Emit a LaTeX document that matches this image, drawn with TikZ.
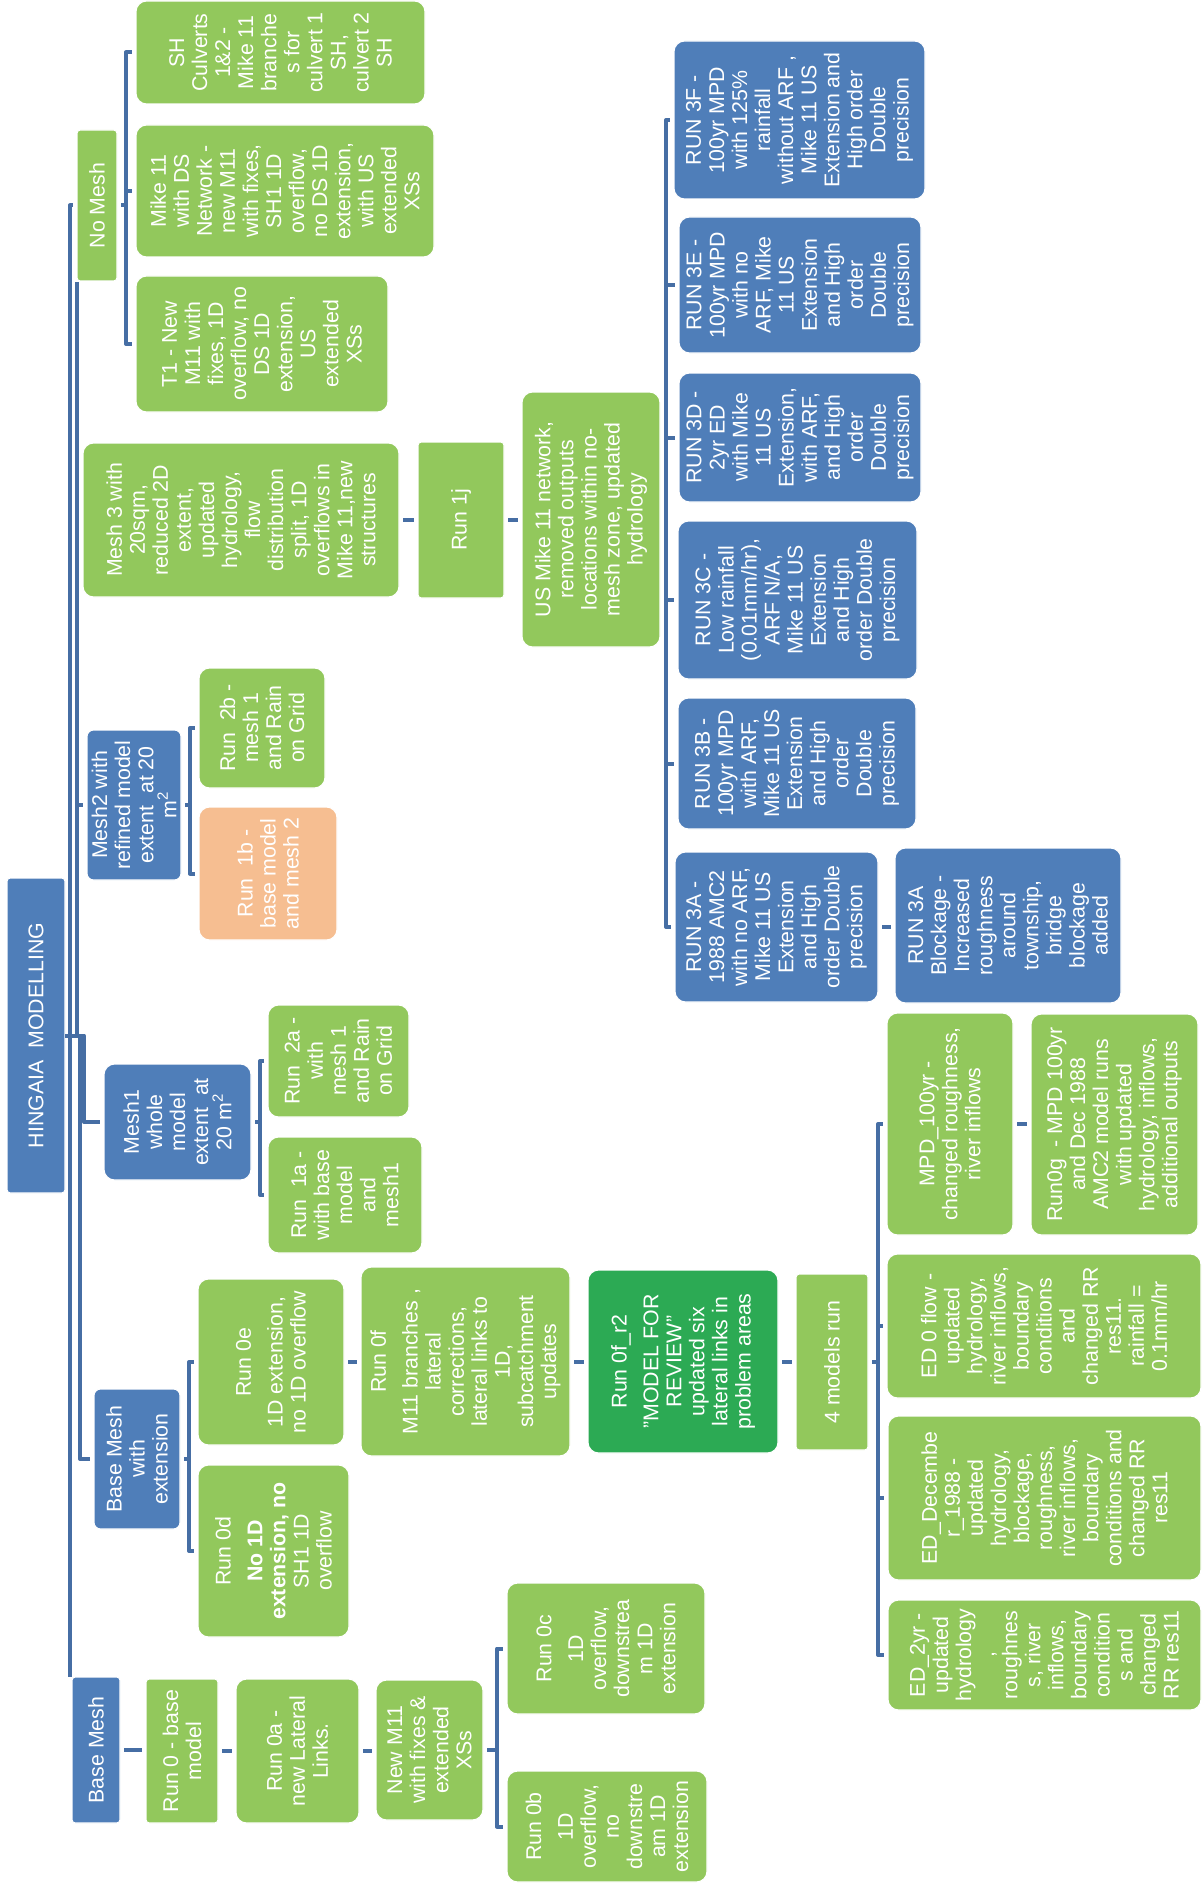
\documentclass[tikz,border=0pt]{standalone}
\usepackage{fontspec}
\setmainfont{Liberation Sans}
\definecolor{boxgreen}{RGB}{146,200,92}
\definecolor{boxblue}{RGB}{79,126,185}
\definecolor{boxdark}{RGB}{44,170,84}
\definecolor{boxorange}{RGB}{246,190,145}
\definecolor{linkblue}{RGB}{70,110,164}
% box: name, x1, y1, x2, y2, style, text (text runs bottom to top)
\newcommand\mkbox[7]{%
  \node[#6, minimum width={(#4-#2)*0.75pt}, minimum height={(#5-#3)*0.75pt}] (#1) at ({(#2+#4)/2},{(#3+#5)/2}) {};
  \node[txt, rotate=90] at (#1.center) {#7};}
% straight link between two boxes side by side
\newcommand\lnk[2]{\draw[conn, shorten <=3pt, shorten >=3pt] (#1.east) -- (#1.east -| #2.west);}
% elbow link from a parent to a child through a vertical rail
\newcommand\elb[3]{\draw[conn, shorten <=3pt, shorten >=3pt] (#1.east) -- (#1.east -| #3) |- (#2.west);}
\begin{document}
\begin{tikzpicture}[x=0.75pt,y=-0.75pt,
  box/.style={rectangle, rounded corners=8pt, inner sep=0pt, outer sep=0pt, draw=white, line width=0.8pt},
  gbox/.style={box, fill=boxgreen},
  bbox/.style={box, fill=boxblue},
  dbox/.style={box, fill=boxdark},
  obox/.style={box, fill=boxorange},
  sq/.style={rounded corners=2.5pt},
  txt/.style={text=white, align=center, inner sep=0pt, font=\fontsize{16pt}{17.3pt}\selectfont},
  conn/.style={draw=linkblue, line width=3pt, line join=round},
]
\fill[white] (0,0) rectangle (1202,1890);
\useasboundingbox (0,0) rectangle (1202,1890);

% root
\mkbox{root}{7}{878}{65}{1193}{bbox,sq}{HINGAIA~ MODELLING}

% no mesh branch
\mkbox{nomesh}{77}{130}{117}{281}{gbox,sq}{No Mesh}
\mkbox{shc}{136}{1}{425}{104}{gbox}{SH\\Culverts\\1\&2 -\\Mike 11\\branche\\s for\\culvert 1\\SH,\\culvert 2\\SH}
\mkbox{mds}{136}{125}{434}{257}{gbox}{Mike 11\\with DS\\Network -\\new M11\\with fixes,\\SH1 1D\\overflow,\\no DS 1D\\extension,\\with US\\extended\\XSs}
\mkbox{tone}{136}{276}{388}{412}{gbox}{T1 - New\\M11 with\\fixes, 1D\\overflow, no\\DS 1D\\extension,\\US\\extended\\XSs}

% mesh 3 branch
\mkbox{mthree}{83}{443}{399}{597}{gbox}{Mesh 3 with\\20sqm,\\reduced 2D\\extent,\\updated\\hydrology,\\flow\\distribution\\split, 1D\\overflows in\\Mike 11,new\\structures}
\mkbox{runoj}{418}{442}{504}{598}{gbox,sq}{Run 1j}
\mkbox{usm}{522}{392}{660}{647}{gbox}{US Mike 11 network,\\removed outputs\\locations within no-\\mesh zone, updated\\hydrology}
\mkbox{rf}{674}{41}{925}{199}{bbox}{RUN 3F -\\100yr MPD\\with 125\%\\rainfall\\without ARF ,\\Mike 11 US\\Extension and\\High order\\Double\\precision}
\mkbox{re}{679}{217}{921}{353}{bbox}{RUN 3E -\\100yr MPD\\with no\\ARF, Mike\\11 US\\Extension\\and High\\order\\Double\\precision}
\mkbox{rd}{679}{373}{921}{502}{bbox}{RUN 3D -\\2yr ED\\with Mike\\11 US\\Extension,\\with ARF,\\and High\\order\\Double\\precision}
\mkbox{rc}{678}{521}{917}{679}{bbox}{RUN 3C -\\Low rainfall\\(0.01mm/hr),\\ARF N/A,\\Mike 11 US\\Extension\\and High\\order Double\\precision}
\mkbox{rb}{678}{698}{916}{829}{bbox}{RUN 3B -\\100yr MPD\\with ARF,\\Mike 11 US\\Extension\\and High\\order\\Double\\precision}
\mkbox{ra}{675}{852}{878}{1002}{bbox}{RUN 3A -\\1988 AMC2\\with no ARF,\\Mike 11 US\\Extension\\and High\\order Double\\precision}
\mkbox{rab}{895}{848}{1121}{1003}{bbox}{RUN 3A\\Blockage -\\Increased\\roughness\\around\\township,\\bridge\\blockage\\added}

% mesh 2 branch
\mkbox{mtwo}{87}{730}{181}{880}{bbox,rounded corners=5pt}{Mesh2 with\\refined model\\extent~ at 20\\m\textsuperscript{2}}
\mkbox{rtb}{199}{668}{325}{788}{gbox}{Run~ 2b -\\mesh 1\\and Rain\\on Grid}
\mkbox{rob}{199}{807}{337}{940}{obox}{Run~ 1b -\\base model\\and mesh 2}

% mesh 1 branch
\mkbox{mone}{104}{1064}{251}{1180}{bbox}{Mesh1\\whole\\model\\extent~ at\\20 m\textsuperscript{2}}
\mkbox{rta}{268}{1005}{409}{1117}{gbox}{Run~ 2a -\\with\\mesh 1\\and Rain\\on Grid}
\mkbox{roa}{268}{1137}{422}{1253}{gbox}{Run~ 1a -\\with base\\model\\and\\mesh1}

% base mesh with extension branch
\mkbox{bmx}{94}{1389}{180}{1529}{bbox,rounded corners=5pt}{Base Mesh\\with\\extension}
\mkbox{rze}{198}{1279}{344}{1445}{gbox}{Run 0e\\[6.5pt]1D extension,\\no 1D overflow}
\mkbox{rzd}{198}{1465}{349}{1637}{gbox}{Run 0d\\[6.5pt]\textbf{No 1D}\\\textbf{extension, no}\\SH1 1D\\overflow}
\mkbox{rzf}{361}{1267}{570}{1456}{gbox}{Run 0f\\[6.5pt]M11 branches ,\\lateral\\corrections,\\lateral links to\\1D,\\subcatchment\\updates}
\mkbox{rzr}{588}{1270}{778}{1453}{dbox}{Run 0f\_r2\\[6.5pt]"MODEL FOR\\REVIEW"\\updated six\\lateral links in\\problem areas}
\mkbox{fmr}{796}{1274}{868}{1450}{gbox,sq}{4 models run}
\mkbox{mpd}{887}{1013}{1013}{1235}{gbox}{MPD\_100yr -\\changed roughness,\\river inflows}
\mkbox{rzg}{1031}{1014}{1198}{1235}{gbox}{Run0g~ - MPD 100yr\\and Dec 1988\\AMC2 model runs\\with updated\\hydrology, inflows,\\additional outputs}
\mkbox{edz}{887}{1254}{1201}{1398}{gbox}{ED 0 flow -\\updated\\hydrology,\\river inflows,\\boundary\\conditions\\and\\changed RR\\res11.\\rainfall =\\0.1mm/hr}
\mkbox{edd}{888}{1416}{1201}{1580}{gbox}{ED\_Decembe\\r\_1988 -\\updated\\hydrology,\\blockage,\\roughness,\\river inflows,\\boundary\\conditions and\\changed RR\\res11}
\mkbox{edt}{888}{1600}{1201}{1710}{gbox}{ED\_2yr -\\updated\\hydrology\\,\\roughnes\\s, river\\inflows,\\boundary\\condition\\s and\\changed\\RR res11}

% base mesh branch
\mkbox{bm}{72}{1677}{120}{1823}{bbox,sq}{Base Mesh}
\mkbox{rz}{146}{1679}{218}{1823}{gbox,sq}{Run 0 - base\\model}
\mkbox{rza}{236}{1679}{359}{1823}{gbox}{Run 0a -\\new Lateral\\Links.}
\mkbox{nm}{376}{1680}{483}{1820}{gbox}{New M11\\with fixes \&\\extended\\XSs}
\mkbox{rzc}{507}{1583}{705}{1714}{gbox}{Run 0c\\[6.5pt]1D\\overflow,\\downstrea\\m 1D\\extension}
\mkbox{rzb}{507}{1771}{707}{1882}{gbox}{Run 0b\\[6.5pt]1D\\overflow,\\no\\downstre\\am 1D\\extension}

% rails
\coordinate (tA) at (70,0);
\coordinate (tB) at (77,0);
\coordinate (tD) at (80,0);
\coordinate (tC) at (84,0);
\coordinate (tTop) at (77,282);
\coordinate (kNM) at (126,0);
\coordinate (kUS) at (666,0);
\coordinate (kM2) at (190,0);
\coordinate (kM1) at (260,0);
\coordinate (kBX) at (189,0);
\coordinate (kFM) at (878,0);
\coordinate (kNW) at (497,0);

% links from the root
\draw[conn, shorten >=3pt] (root.east) -- (root.east -| tA) |- (nomesh.west);
\draw[conn] (root.east -| tA) -- (tA |- bm.north);
\draw[conn, shorten >=3pt] (root.east) -- (root.east -| tB) |- (mthree.west);
\draw[conn, shorten >=3pt] (root.east -| tB) |- (mtwo.west);
\draw[conn] (tTop) -- (tTop |- mthree.west);
\draw[conn, shorten >=3pt] (root.east) -- (root.east -| tC) |- (mone.west);
\draw[conn, shorten >=3pt] (root.east -| tD) |- (bmx.west);

% no mesh
\elb{nomesh}{shc}{kNM}
\elb{nomesh}{mds}{kNM}
\elb{nomesh}{tone}{kNM}

% mesh 3 chain
\lnk{mthree}{runoj}
\lnk{runoj}{usm}
\elb{usm}{rf}{kUS}
\elb{usm}{re}{kUS}
\elb{usm}{rd}{kUS}
\elb{usm}{rc}{kUS}
\elb{usm}{rb}{kUS}
\elb{usm}{ra}{kUS}
\lnk{ra}{rab}

% mesh 2 and mesh 1
\elb{mtwo}{rtb}{kM2}
\elb{mtwo}{rob}{kM2}
\elb{mone}{rta}{kM1}
\elb{mone}{roa}{kM1}

% base mesh with extension
\elb{bmx}{rze}{kBX}
\elb{bmx}{rzd}{kBX}
\lnk{rze}{rzf}
\lnk{rzf}{rzr}
\lnk{rzr}{fmr}
\elb{fmr}{mpd}{kFM}
\elb{fmr}{edz}{kFM}
\elb{fmr}{edd}{kFM}
\elb{fmr}{edt}{kFM}
\lnk{mpd}{rzg}

% base mesh
\lnk{bm}{rz}
\lnk{rz}{rza}
\lnk{rza}{nm}
\elb{nm}{rzc}{kNW}
\elb{nm}{rzb}{kNW}
\end{tikzpicture}
\end{document}
